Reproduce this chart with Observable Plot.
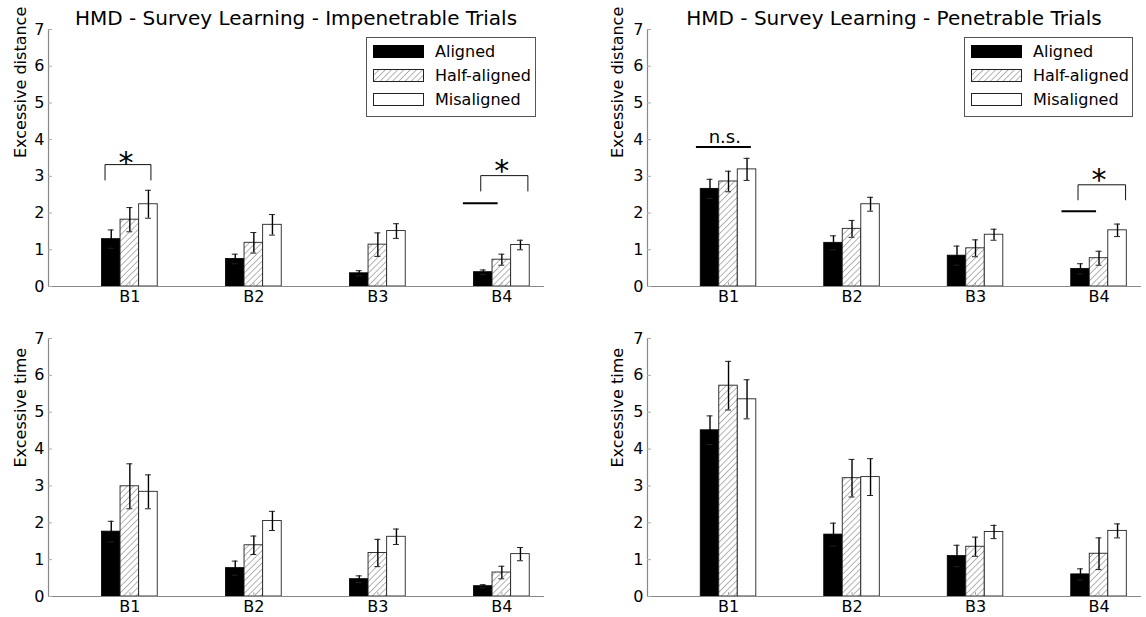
<!DOCTYPE html>
<html><head><meta charset="utf-8">
<script src="https://cdn.jsdelivr.net/npm/d3@7"></script>
<script src="https://cdn.jsdelivr.net/npm/@observablehq/plot@0.6"></script>
<style>
body{margin:0;background:#fff;font-family:"DejaVu Sans",sans-serif;}
#root{position:relative;width:1146px;height:617px;overflow:hidden;background:#fff;}
.title{position:absolute;font-size:20px;line-height:24px;white-space:nowrap;transform:translateX(-50%);color:#000;}
.legend{position:absolute;border:1px solid #555;background:#fff;font-size:16px;box-sizing:border-box;}
.legend .row{position:absolute;left:6px;display:flex;align-items:center;height:20px;}
.legend .row svg{margin-right:11px;display:block;}
</style>
</head><body>
<svg width="0" height="0" style="position:absolute">
  <defs>
    <pattern id="hatch" width="4.4" height="4.4" patternUnits="userSpaceOnUse" patternTransform="rotate(45)">
      <rect width="4.4" height="4.4" fill="white"></rect>
      <line x1="0" y1="0" x2="0" y2="4.4" stroke="#777" stroke-width="1.1"></line>
    </pattern>
  </defs>
</svg>
<div id="root"></div>
<script>
const blocks = ["B1", "B2", "B3", "B4"];
const conditions = ["Aligned", "Half-aligned", "Misaligned"];
const yTicks = [0, 1, 2, 3, 4, 5, 6, 7];
const titles = ["HMD - Survey Learning - Impenetrable Trials", "HMD - Survey Learning - Penetrable Trials"];
const yLabels = ["Excessive distance", "Excessive time"];

// Impenetrable – excessive distance
const impDistAligned = [1.29, 0.75, 0.36, 0.39];
const impDistHalf    = [1.82, 1.19, 1.14, 0.73];
const impDistMis     = [2.24, 1.68, 1.51, 1.13];
const impDistErrAligned = [0.25, 0.13, 0.07, 0.06];
const impDistErrHalf    = [0.33, 0.28, 0.32, 0.15];
const impDistErrMis     = [0.38, 0.28, 0.20, 0.13];

// Penetrable – excessive distance
const penDistAligned = [2.66, 1.19, 0.84, 0.48];
const penDistHalf    = [2.86, 1.57, 1.04, 0.77];
const penDistMis     = [3.19, 2.24, 1.41, 1.53];
const penDistErrAligned = [0.26, 0.19, 0.26, 0.14];
const penDistErrHalf    = [0.28, 0.23, 0.23, 0.19];
const penDistErrMis     = [0.30, 0.19, 0.15, 0.17];

// Impenetrable – excessive time
const impTimeAligned = [1.76, 0.77, 0.47, 0.28];
const impTimeHalf    = [2.99, 1.39, 1.18, 0.65];
const impTimeMis     = [2.84, 2.05, 1.62, 1.15];
const impTimeErrAligned = [0.28, 0.19, 0.09, 0.04];
const impTimeErrHalf    = [0.61, 0.25, 0.37, 0.17];
const impTimeErrMis     = [0.46, 0.26, 0.21, 0.18];

// Penetrable – excessive time
const penTimeAligned = [4.51, 1.68, 1.10, 0.60];
const penTimeHalf    = [5.72, 3.21, 1.35, 1.16];
const penTimeMis     = [5.35, 3.24, 1.75, 1.78];
const penTimeErrAligned = [0.39, 0.31, 0.29, 0.15];
const penTimeErrHalf    = [0.66, 0.51, 0.26, 0.43];
const penTimeErrMis     = [0.53, 0.50, 0.18, 0.19];

// Significance annotations (block index, offsets in block units, y in data units)
const impDistBrackets = [{block: 0, from: -0.20, to: 0.17, top: 3.32, leg: 2.90}, {block: 3, from: -0.17, to: 0.21, top: 3.02, leg: 2.60}];
const impDistLines = [{block: 3, from: -0.31, to: -0.03, y: 2.27}];
const impDistMarks = [{block: 0, dx: -0.03, y: 3.08, text: "*"}, {block: 3, dx: 0.0, y: 2.86, text: "*"}];
const penDistBrackets = [{block: 3, from: -0.17, to: 0.215, top: 2.77, leg: 2.36}];
const penDistLines = [{block: 0, from: -0.26, to: 0.185, y: 3.80}, {block: 3, from: -0.30, to: -0.02, y: 2.05}];
const penDistMarks = [{block: 0, dx: -0.03, y: 3.92, text: "n.s."}, {block: 3, dx: 0.0, y: 2.64, text: "*"}];

const barW = 0.15;
const xDomain = [-0.656, 3.344];

function makePanel(opts) {
  const {series, errs, ylabel, width, height, marginLeft, marginRight, marginTop, marginBottom,
         brackets = [], lines = [], marks = []} = opts;
  const rows = [];
  series.forEach((vals, k) => vals.forEach((v, i) => {
    const xc = i + (k - 1) * barW;
    rows.push({k, block: i, value: v, err: errs[k][i], xc, x1: xc - barW / 2, x2: xc + barW / 2});
  }));
  const caps = rows.flatMap(d => [
    {x1: d.xc - 0.024, x2: d.xc + 0.024, y: d.value + d.err},
    {x1: d.xc - 0.024, x2: d.xc + 0.024, y: d.value - d.err}
  ]);
  const bracketPts = brackets.flatMap((b, j) => [
    {id: j, x: b.block + b.from, y: b.leg},
    {id: j, x: b.block + b.from, y: b.top},
    {id: j, x: b.block + b.to, y: b.top},
    {id: j, x: b.block + b.to, y: b.leg}
  ]);
  const frameW = width - marginLeft - marginRight;
  const frameH = height - marginTop - marginBottom;
  return Plot.plot({
    width, height, marginLeft, marginRight, marginTop, marginBottom,
    style: {fontFamily: "DejaVu Sans", fontSize: "16px", color: "#000", background: "white", overflow: "visible"},
    x: {domain: xDomain, axis: null},
    y: {domain: [0, 7], axis: null},
    marks: [
      Plot.rectY(rows.filter(d => d.k === 0), {x1: "x1", x2: "x2", y1: 0, y2: "value", fill: "black", stroke: "black", strokeWidth: 0.8}),
      Plot.rectY(rows.filter(d => d.k === 1), {x1: "x1", x2: "x2", y1: 0, y2: "value", fill: "url(#hatch)", stroke: "#222", strokeWidth: 0.9}),
      Plot.rectY(rows.filter(d => d.k === 2), {x1: "x1", x2: "x2", y1: 0, y2: "value", fill: "white", stroke: "#222", strokeWidth: 0.9}),
      Plot.ruleX(rows, {x: "xc", y1: d => d.value - d.err, y2: d => d.value + d.err, stroke: "black", strokeWidth: 1.4}),
      Plot.ruleY(caps, {x1: "x1", x2: "x2", y: "y", stroke: "#222", strokeWidth: 1}),
      Plot.ruleY([0], {stroke: "#888", strokeWidth: 1.2}),
      Plot.ruleX([xDomain[0]], {stroke: "#888", strokeWidth: 1.2}),
      Plot.tickY(yTicks, {y: d => d, insetRight: frameW - 4, stroke: "#aaa"}),
      Plot.tickX([0, 1, 2, 3], {x: d => d, insetTop: frameH - 4, stroke: "#aaa"}),
      Plot.axisY({ticks: yTicks, tickFormat: d => String(d), tickSize: 0, tickPadding: 4, fontSize: 16}),
      Plot.axisX({ticks: [0, 1, 2, 3], tickFormat: i => blocks[i], tickSize: 0, tickPadding: 4, fontSize: 16}),
      Plot.text([ylabel], {frameAnchor: "left", rotate: -90, dx: opts.labelDx, fontSize: 16}),
      Plot.line(bracketPts, {x: "x", y: "y", z: "id", stroke: "#111", strokeWidth: 1}),
      Plot.ruleY(lines, {x1: d => d.block + d.from, x2: d => d.block + d.to, y: "y", stroke: "black", strokeWidth: 2}),
      Plot.text(marks, {x: d => d.block + d.dx, y: "y", text: "text", lineAnchor: "bottom",
        fontSize: d => d.text === "*" ? 30 : 18, fontWeight: d => d.text === "*" ? "bold" : "normal"})
    ]
  });
}

const root = document.getElementById("root");
function place(el, left, top) {
  el.style.position = "absolute"; el.style.left = left + "px"; el.style.top = top + "px";
  root.appendChild(el);
}

const topH = 308, botH = 309;
place(makePanel({series: [impDistAligned, impDistHalf, impDistMis], errs: [impDistErrAligned, impDistErrHalf, impDistErrMis],
  ylabel: yLabels[0], width: 573, height: topH, marginLeft: 48, marginRight: 29, marginTop: 29, marginBottom: 22, labelDx: -28,
  brackets: impDistBrackets, lines: impDistLines, marks: impDistMarks}), 0, 0);
place(makePanel({series: [penDistAligned, penDistHalf, penDistMis], errs: [penDistErrAligned, penDistErrHalf, penDistErrMis],
  ylabel: yLabels[0], width: 573, height: topH, marginLeft: 74, marginRight: 5, marginTop: 29, marginBottom: 22, labelDx: -30,
  brackets: penDistBrackets, lines: penDistLines, marks: penDistMarks}), 573, 0);
place(makePanel({series: [impTimeAligned, impTimeHalf, impTimeMis], errs: [impTimeErrAligned, impTimeErrHalf, impTimeErrMis],
  ylabel: yLabels[1], width: 573, height: botH, marginLeft: 48, marginRight: 29, marginTop: 30, marginBottom: 21, labelDx: -28}), 0, 308);
place(makePanel({series: [penTimeAligned, penTimeHalf, penTimeMis], errs: [penTimeErrAligned, penTimeErrHalf, penTimeErrMis],
  ylabel: yLabels[1], width: 573, height: botH, marginLeft: 74, marginRight: 5, marginTop: 30, marginBottom: 21, labelDx: -30}), 573, 308);

// Titles
[[titles[0], 296], [titles[1], 894]].forEach(([t, cx]) => {
  const d = document.createElement("div");
  d.className = "title"; d.textContent = t;
  d.style.left = cx + "px"; d.style.top = "6px";
  root.appendChild(d);
});

// Legends
const swatchFills = ["black", "url(#hatch)", "white"];
const swatchStrokes = ["black", "#222", "#222"];
[[366, 170], [964, 169]].forEach(([lx, lw]) => {
  const lg = document.createElement("div");
  lg.className = "legend";
  lg.style.left = lx + "px"; lg.style.top = "37px"; lg.style.width = lw + "px"; lg.style.height = "80px";
  conditions.forEach((c, k) => {
    const row = document.createElement("div");
    row.className = "row";
    row.style.top = (3 + k * 24) + "px";
    row.innerHTML = `<svg width="51" height="13"><rect x="0.5" y="0.5" width="50" height="12" fill="${swatchFills[k]}" stroke="${swatchStrokes[k]}" stroke-width="1"></rect></svg><span>${c}</span>`;
    lg.appendChild(row);
  });
  root.appendChild(lg);
});
</script>
</body></html>
